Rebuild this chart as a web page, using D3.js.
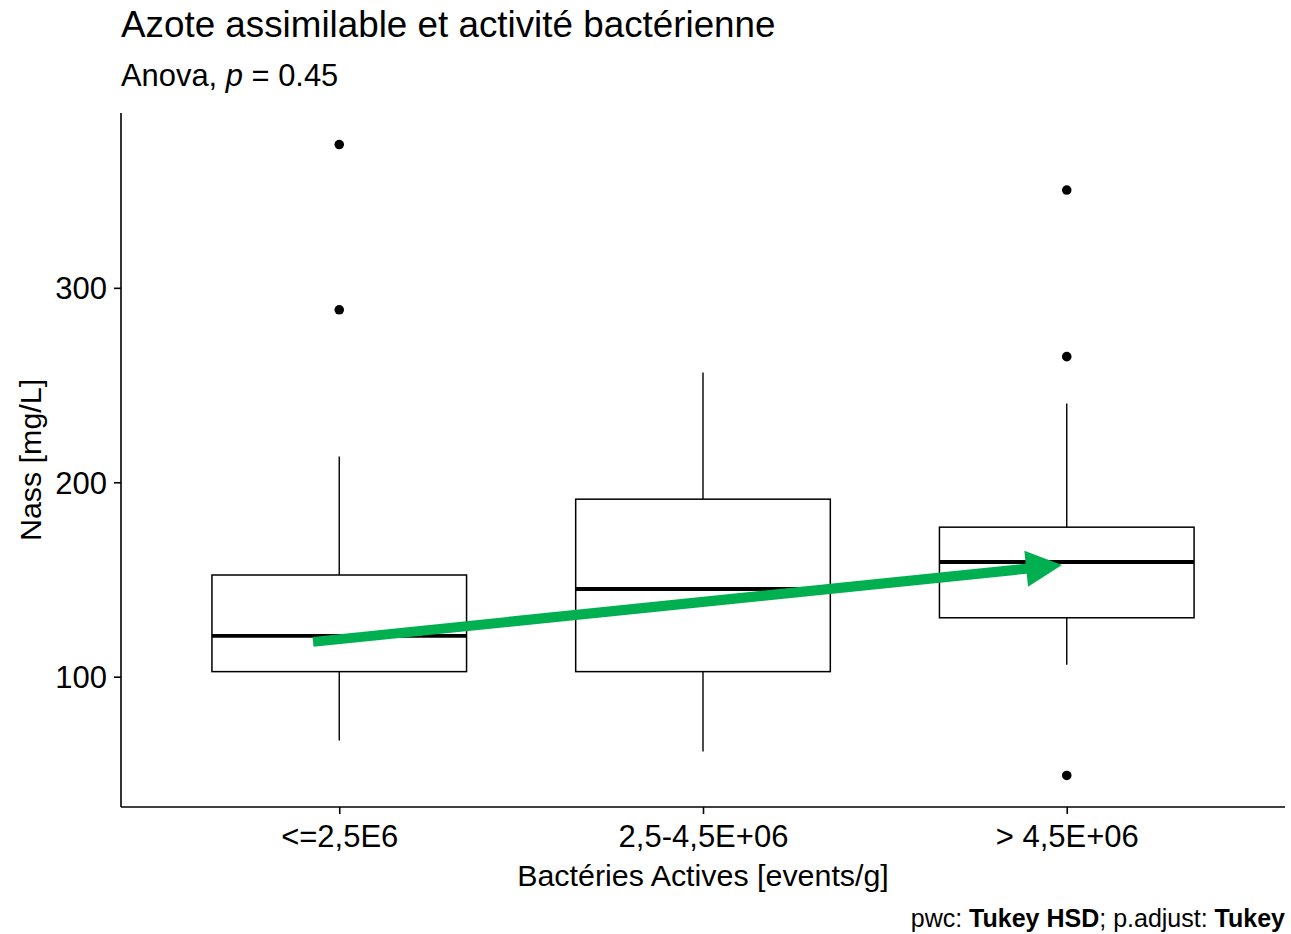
<!DOCTYPE html>
<html>
<head>
<meta charset="utf-8">
<script src="https://cdn.jsdelivr.net/npm/d3@7/dist/d3.min.js"></script>
<style>
  body { margin: 0; background: #fff; }
  text { font-family: "Liberation Sans", Arial, sans-serif; fill: #000; }
</style>
</head>
<body>
<svg id="chart" width="1291" height="934"></svg>
<script>
// ---- data ----
const categories = ["<=2,5E6", "2,5-4,5E+06", "> 4,5E+06"];
const whiskerLow  = [67.2, 61.5, 106.2];
const q1          = [102.6, 102.6, 130.3];
const medians     = [121.0, 145.1, 159.0];
const q3          = [152.3, 191.3, 176.9];
const whiskerHigh = [213.3, 256.4, 240.5];
const outliers    = [[373.7, 288.7], [], [350.3, 264.6, 49.2]];
const yTicks      = [100, 200, 300];
// trend arrow annotation (category position 1..3, value)
const arrowFrom = { pos: 0.928, value: 117.9 };
const arrowTo   = { pos: 2.987, value: 157.4 };

const titleText = "Azote assimilable et activité bactérienne";
const xTitle = "Bactéries Actives [events/g]";
const yTitle = "Nass [mg/L]";

// ---- layout ----
const svg = d3.select("#chart");
const L = 121, R = 1285, T = 113, B = 807;

const allVals = whiskerLow.concat(whiskerHigh, outliers.flat());
const lo = d3.min(allVals), hi = d3.max(allVals), pad = (hi - lo) * 0.05;
const y = d3.scaleLinear().domain([lo - pad, hi + pad]).range([B, T]);
const x = d3.scalePoint().domain(categories).range([L, R]).padding(0.6);
const step = x.step();
const xPos = d3.scaleLinear().domain([1, 2]).range([x(categories[0]), x(categories[0]) + step]);
const boxW = step * 0.7;

// ---- boxes ----
const g = svg.append("g");
categories.forEach((c, i) => {
  const cx = x(c);
  g.append("line").attr("x1", cx).attr("x2", cx)
    .attr("y1", y(q3[i])).attr("y2", y(whiskerHigh[i]))
    .attr("stroke", "#000").attr("stroke-width", 1.4);
  g.append("line").attr("x1", cx).attr("x2", cx)
    .attr("y1", y(q1[i])).attr("y2", y(whiskerLow[i]))
    .attr("stroke", "#000").attr("stroke-width", 1.4);
  g.append("rect").attr("x", cx - boxW / 2).attr("width", boxW)
    .attr("y", y(q3[i])).attr("height", y(q1[i]) - y(q3[i]))
    .attr("fill", "#fff").attr("stroke", "#000").attr("stroke-width", 1.5);
  g.append("line").attr("x1", cx - boxW / 2).attr("x2", cx + boxW / 2)
    .attr("y1", y(medians[i])).attr("y2", y(medians[i]))
    .attr("stroke", "#000").attr("stroke-width", 3.8);
  outliers[i].forEach(v => {
    g.append("circle").attr("cx", cx).attr("cy", y(v)).attr("r", 4.8).attr("fill", "#000");
  });
});

// ---- arrow ----
(function () {
  const x0 = xPos(arrowFrom.pos), y0 = y(arrowFrom.value);
  const x1 = xPos(arrowTo.pos), y1 = y(arrowTo.value);
  const dx = x1 - x0, dy = y1 - y0, len = Math.hypot(dx, dy);
  const ux = dx / len, uy = dy / len, nx = -uy, ny = ux;
  const headL = 36, headW = 18;
  const bx = x1 - ux * headL, by = y1 - uy * headL;
  svg.append("line").attr("x1", x0).attr("y1", y0).attr("x2", bx + ux * 2).attr("y2", by + uy * 2)
    .attr("stroke", "#00B050").attr("stroke-width", 10);
  svg.append("path")
    .attr("d", `M${x1},${y1}L${bx + nx * headW},${by + ny * headW}L${bx - nx * headW},${by - ny * headW}Z`)
    .attr("fill", "#00B050");
})();

// ---- axes ----
const yAxis = svg.append("g").attr("transform", `translate(${L},0)`)
  .call(d3.axisLeft(y).tickValues(yTicks).tickSize(7).tickPadding(7));
const xAxis = svg.append("g").attr("transform", `translate(0,${B})`)
  .call(d3.axisBottom(x).tickSize(7).tickPadding(11));
[yAxis, xAxis].forEach(a => {
  a.select(".domain").attr("stroke", "#000").attr("stroke-width", 1.6)
    .attr("d", a === yAxis ? `M0,${T}V${B}` : `M${L},0H${R}`);
  a.selectAll(".tick line").attr("stroke", "#000").attr("stroke-width", 1.6);
  a.selectAll(".tick text").attr("font-size", 31).attr("fill", "#000")
    .style("font-family", '"Liberation Sans", Arial, sans-serif');
});
yAxis.selectAll(".tick text").attr("dy", "0.35em");

// ---- titles ----
svg.append("text").attr("x", 121).attr("y", 37).attr("font-size", 36.8).text(titleText);
const sub = svg.append("text").attr("x", 121).attr("y", 86).attr("font-size", 30.9);
sub.append("tspan").text("Anova, ");
sub.append("tspan").attr("font-style", "italic").text("p");
sub.append("tspan").text(" = 0.45");

svg.append("text").attr("x", (L + R) / 2).attr("y", 886).attr("text-anchor", "middle")
  .attr("font-size", 30.4).text(xTitle);
svg.append("text").attr("transform", `translate(41,${(T + B) / 2}) rotate(-90)`)
  .attr("text-anchor", "middle").attr("font-size", 30.4).text(yTitle);

const cap = svg.append("text").attr("x", 1285).attr("y", 927).attr("text-anchor", "end").attr("font-size", 25);
cap.append("tspan").text("pwc: ");
cap.append("tspan").attr("font-weight", "bold").text("Tukey HSD");
cap.append("tspan").text("; p.adjust: ");
cap.append("tspan").attr("font-weight", "bold").text("Tukey");
</script>
</body>
</html>
